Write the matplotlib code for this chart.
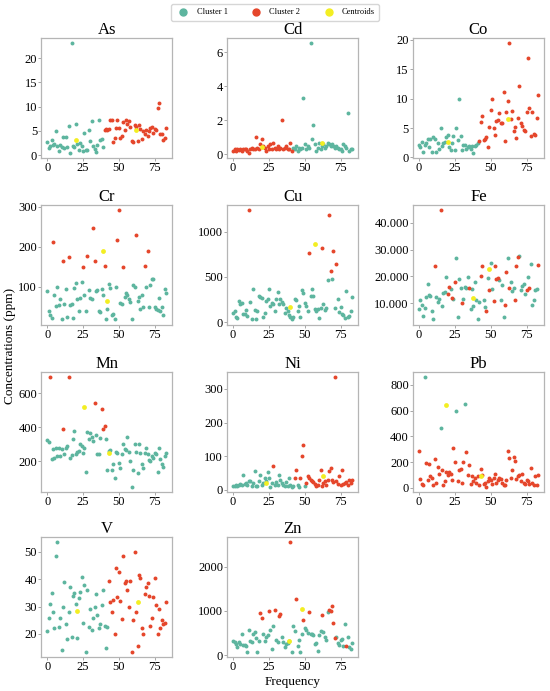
import matplotlib
matplotlib.use("Agg")
import matplotlib.pyplot as plt
from matplotlib.lines import Line2D

plt.rcParams['font.family'] = ['Liberation Serif', 'DejaVu Serif']

C1 = '#5db59f'
C2 = '#e5462b'
CEN = '#f3ee22'

elements = ["As", "Cd", "Co", "Cr", "Cu", "Fe", "Mn", "Ni", "Pb", "V", "Zn"]

# concentration per sample (index = sample number)
as_y = [2.7, 1.4, 1.8, 3.2, 2.2, 2.4, 5.0, 1.9, 0.8, 2.0, 1.6, 3.8, 1.5, 3.8, 1.6, 6.0, 0.5, 23.0, 1.8, 1.7,
        6.4, 2.3, 1.1, 2.6, 1.8, 0.9, 4.6, 1.0, 1.0, 5.2, 3.0, 7.0, 1.8, 1.2, 0.6, 2.1, 7.2, 3.2, 3.4, 1.6,
        5.2, 5.3, 5.2, 5.4, 7.2, 7.2, 2.8, 3.6, 5.5, 7.3, 5.6, 3.5, 3.9, 6.8, 5.2, 7.3, 6.5, 7.0, 5.8, 2.9,
        2.8, 6.2, 5.9, 3.0, 6.2, 5.4, 3.3, 4.9, 4.3, 5.2, 3.9, 5.0, 5.5, 5.8, 4.5, 5.3, 5.2, 9.8, 10.8, 4.3,
        4.4, 3.2, 3.6, 5.5]
as_lab = "1" * 40 + "2" * 44

cd_y = [0.2, 0.3, 0.2, 0.3, 0.25, 0.3, 0.2, 0.3, 0.35, 0.3, 0.2, 0.1, 0.3, 0.4, 0.35, 0.3, 1.05, 0.4, 0.3, 0.6,
        0.9, 0.5, 0.4, 0.2, 0.5, 0.35, 0.6, 0.3, 0.7, 0.4, 0.3, 0.5, 0.3, 0.4, 2.0, 0.3, 0.4, 0.5, 0.3, 0.3,
        0.7, 0.2, 0.4, 0.3, 0.5, 0.2, 0.4, 0.3, 0.4, 3.3, 0.6, 0.3, 0.5, 0.4, 6.5, 0.9, 1.7, 0.6, 0.2, 0.4,
        0.7, 0.3, 0.5, 0.6, 0.4, 0.5, 0.7, 0.6, 0.5, 0.6, 0.5, 0.4, 0.5, 0.4, 0.3, 0.3, 0.2, 0.6, 0.5, 0.4,
        2.4, 0.2, 0.3, 0.3]
cd_lab = "2" * 42 + "1" * 42

co_y = [2.2, 1.8, 2.7, 1.0, 2.2, 2.5, 3.1, 1.8, 3.2, 1.0, 3.5, 3.2, 1.0, 2.4, 1.5, 5.0, 2.0, 2.5, 2.6, 3.5,
        3.8, 1.8, 1.2, 2.5, 3.6, 1.3, 5.1, 3.0, 10.0, 3.6, 1.2, 2.2, 2.2, 1.5, 1.8, 2.0, 1.4, 2.0, 0.8, 1.9,
        2.2, 2.5, 2.8, 6.0, 7.1, 3.0, 3.2, 3.4, 1.8, 5.2, 8.0, 10.0, 5.0, 3.8, 6.2, 6.4, 7.5, 5.8, 5.8, 11.2,
        2.8, 7.8, 9.6, 19.4, 6.5, 7.9, 4.5, 5.2, 3.3, 6.8, 12.2, 5.9, 5.4, 4.6, 4.5, 7.8, 17.0, 8.4, 3.6, 7.7,
        4.0, 3.8, 6.8, 10.7]
co_lab = "1" * 42 + "2" * 42

cr_y = [88, 38, 30, 22, 213, 78, 52, 100, 55, 68, 18, 165, 57, 95, 25, 175, 55, 56, 22, 97,
        108, 70, 38, 72, 112, 148, 80, 40, 177, 92, 72, 68, 247, 163, 88, 92, 38, 36, 93, 78,
        151, 20, 45, 107, 97, 30, 32, 20, 100, 218, 292, 60, 57, 150, 75, 85, 78, 70, 62, 20,
        105, 98, 229, 65, 75, 45, 78, 48, 152, 100, 190, 50, 103, 120, 118, 50, 45, 42, 72, 38,
        50, 30, 95, 85]
cr_lab = ("1111211111121112111111111211211122111111"
          "2111111112211211111111211111212111111111"
          "1111")

cu_y = [100, 120, 60, 40, 230, 200, 210, 90, 90, 130, 70, 1240, 220, 30, 370, 130, 30, 120, 290, 280,
        270, 50, 100, 230, 250, 370, 180, 210, 200, 120, 250, 330, 200, 250, 220, 200, 100, 150, 120, 80,
        60, 30, 60, 260, 240, 120, 180, 60, 350, 320, 210, 180, 120, 760, 290, 360, 290, 140, 120, 140,
        40, 150, 820, 200, 130, 150, 470, 1190, 570, 480, 790, 150, 640, 260, 110, 170, 90, 80, 40, 340,
        60, 70, 120, 280]
cu_lab = ("1111111111121111111111111111111111111111"
          "1111111111111211111111211112212121111111"
          "1111")

fe_y = [7800, 11200, 9200, 5200, 8200, 12500, 17000, 13200, 12800, 7000, 4200, 23800, 12500, 10500, 11500,
        44800, 8800, 14000, 14200, 19800, 13500, 16000, 15200, 12000, 11500, 18000, 27000, 5000, 19200,
        15800, 10000, 11500, 16200, 15800, 19800, 15500, 8000, 15200, 9000, 17800, 11200, 4000, 10500,
        20200, 24000, 11200, 8500, 7200, 19500, 15000, 25200, 15200, 11000, 24000, 19000, 19500, 18800,
        11200, 16800, 5000, 9500, 21800, 27000, 15800, 17800, 14500, 15800, 11200, 24000, 27200, 27800,
        15000, 16500, 17200, 13500, 14800, 19800, 15800, 24500, 9500, 11200, 14800, 15200, 24200]
fe_lab = ("1111111111121112111122121211112111121111"
          "1112211212112222111122121112221111121211"
          "1112")

mn_y = [325, 315, 695, 210, 270, 220, 280, 230, 280, 230, 270, 392, 240, 280, 290, 695, 220, 235, 330, 375,
        240, 255, 260, 300, 290, 250, 280, 135, 370, 330, 365, 340, 320, 545, 355, 240, 240, 335, 505, 392,
        405, 330, 150, 260, 265, 145, 180, 100, 255, 250, 190, 160, 240, 300, 270, 265, 340, 255, 200, 50,
        150, 300, 255, 130, 300, 250, 180, 160, 250, 275, 240, 205, 200, 230, 220, 250, 240, 135, 280, 210,
        180, 165, 230, 250]
mn_lab = ("1121111111121112111111111111111112111122"
          "2111111111111111111111111111111111111111"
          "1111")

ni_y = [12, 12, 14, 12, 15, 18, 14, 45, 18, 20, 15, 25, 27, 12, 20, 55, 12, 12, 25, 45,
        15, 20, 35, 25, 52, 35, 10, 20, 72, 15, 22, 15, 45, 28, 20, 15, 12, 22, 12, 35,
        15, 10, 12, 35, 58, 14, 10, 35, 100, 132, 12, 20, 40, 35, 30, 25, 22, 18, 12, 15,
        28, 60, 12, 20, 25, 15, 28, 55, 65, 28, 22, 335, 25, 18, 40, 15, 60, 18, 20, 22,
        15, 30, 20, 28]
ni_lab = ("1111111111111111111111111111211111111111"
          "1112211222122222222222222222222222222222"
          "2222")

pb_y = [285, 70, 30, 20, 860, 190, 60, 185, 90, 75, 25, 225, 40, 160, 110, 465, 140, 20, 50, 120,
        100, 120, 110, 60, 310, 200, 600, 50, 140, 150, 40, 200, 648, 275, 100, 180, 30, 90, 50, 75,
        40, 90, 20, 150, 100, 30, 40, 10, 50, 80, 60, 30, 80, 110, 40, 60, 80, 70, 40, 20,
        20, 60, 285, 230, 80, 140, 240, 210, 70, 90, 100, 50, 110, 40, 30, 60, 50, 30, 155, 40,
        20, 90, 25, 100]
pb_lab = ("2222122222222221222222222212222212222222"
          "2222222222222222222222222222222222222222"
          "2222")

v_y = [21, 26, 31, 35, 28, 22, 48.5, 53.5, 22.5, 26, 14, 30, 39, 23.5, 18, 28, 37, 19, 34, 35,
       31, 18.5, 33, 35.5, 41, 24, 38, 13.5, 36, 22.5, 29, 21.5, 26, 30, 34.5, 27, 22, 23.5, 30.5, 36,
       23, 15, 22.5, 39.5, 31.5, 28, 32.5, 20, 44, 33.5, 42.5, 32, 25.5, 48.5, 38.5, 39.5, 36, 30, 39.5, 13.5,
       25, 50, 28, 15.5, 41.5, 40.5, 22, 20, 34.5, 37, 38.5, 34, 23, 26, 33.5, 40.5, 30.5, 20, 29, 22,
       25, 23.5, 24, 31.5]
v_lab = "1" * 43 + "2" * 41

zn_y = [320, 300, 250, 180, 300, 260, 480, 220, 240, 200, 80, 580, 320, 300, 480, 520, 400, 80, 310, 950,
        840, 470, 320, 420, 450, 1000, 580, 150, 650, 1020, 350, 300, 880, 930, 420, 300, 180, 250, 280, 330,
        2550, 80, 650, 540, 1260, 200, 350, 80, 480, 790, 620, 580, 500, 980, 490, 480, 460, 250, 280, 100,
        450, 540, 900, 520, 420, 350, 980, 1030, 1000, 1110, 720, 400, 420, 270, 240, 350, 360, 200, 710, 210,
        420, 180, 130, 270]
zn_lab = ("1111111111111111111221111211121122111111"
          "2111211112111211111111211112222211111112"
          "1111")

# centroids (sample position, concentration)
cen_x = {"As": [20, 62], "Cd": [20, 62], "Co": [20, 62], "Cr": [39, 42], "Cu": [57, 40],
         "Fe": [49, 38], "Mn": [26, 43], "Ni": [23, 63], "Pb": [19, 43], "V": [21, 63], "Zn": [48, 39]}
cen_y = {"As": [3.2, 5.2], "Cd": [0.45, 0.7], "Co": [2.6, 6.6], "Cr": [190, 65], "Cu": [860, 170],
         "Fe": [22800, 11800], "Mn": [520, 245], "Ni": [20, 42], "Pb": [645, 90], "V": [28.5, 31.5],
         "Zn": [1040, 320]}

# y tick values per panel
yticks = {"As": [0, 5, 10, 15, 20], "Cd": [0, 2, 4, 6], "Co": [0, 5, 10, 15, 20], "Cr": [100, 200, 300],
          "Cu": [0, 500, 1000], "Fe": [10000, 20000, 30000, 40000], "Mn": [200, 400, 600],
          "Ni": [0, 100, 200, 300], "Pb": [0, 200, 400, 600, 800], "V": [20, 30, 40, 50],
          "Zn": [0, 1000, 2000]}

data = {"As": (as_y, as_lab), "Cd": (cd_y, cd_lab), "Co": (co_y, co_lab), "Cr": (cr_y, cr_lab),
        "Cu": (cu_y, cu_lab), "Fe": (fe_y, fe_lab), "Mn": (mn_y, mn_lab), "Ni": (ni_y, ni_lab),
        "Pb": (pb_y, pb_lab), "V": (v_y, v_lab), "Zn": (zn_y, zn_lab)}

fig = plt.figure(figsize=(5.5, 6.91), dpi=100)

lefts = [0.075, 0.413, 0.751]
bottoms = [0.771, 0.530, 0.288, 0.049]
w, h = 0.238, 0.174

for i, el in enumerate(elements):
    r, c = divmod(i, 3)
    ax = fig.add_axes([lefts[c], bottoms[r], w, h])
    y, lab = data[el]
    x1 = [k for k in range(len(y)) if lab[k] == "1"]
    x2 = [k for k in range(len(y)) if lab[k] == "2"]
    ax.scatter(x1, [y[k] for k in x1], s=8, color=C1, linewidths=0, zorder=2)
    ax.scatter(x2, [y[k] for k in x2], s=8, color=C2, linewidths=0, zorder=2)
    ax.scatter(cen_x[el], cen_y[el], s=12, color=CEN, linewidths=0, zorder=3)
    ax.set_title(el, fontsize=12, pad=2)
    ax.set_xticks([0, 25, 50, 75])
    ax.set_yticks(yticks[el])
    if el == "Fe":
        ax.set_yticklabels(["10.000", "20.000", "30.000", "40.000"])
    ax.tick_params(labelsize=9, length=2, width=0.6, color='#999999', pad=1)
    for sp in ax.spines.values():
        sp.set_color('#b5b5b5')
        sp.set_linewidth(0.9)
    if el == "Zn":
        ax.set_xlabel("Frequency", fontsize=9.5, labelpad=2)

fig.text(0.018, 0.5, "Concentrations (ppm)", rotation=90, va='center', ha='center', fontsize=9.5)

handles = [Line2D([], [], marker='o', ls='', color=C1, markersize=5, label='Cluster 1'),
           Line2D([], [], marker='o', ls='', color=C2, markersize=5, label='Cluster 2'),
           Line2D([], [], marker='o', ls='', color=CEN, markersize=5, label='Centroids')]
fig.legend(handles=handles, loc='center', bbox_to_anchor=(0.5, 0.982), ncol=3, fontsize=6,
           frameon=True, edgecolor='#cccccc', fancybox=True, handletextpad=0.6, columnspacing=2.4,
           borderpad=0.5)

fig.savefig("out.png", dpi=100)
